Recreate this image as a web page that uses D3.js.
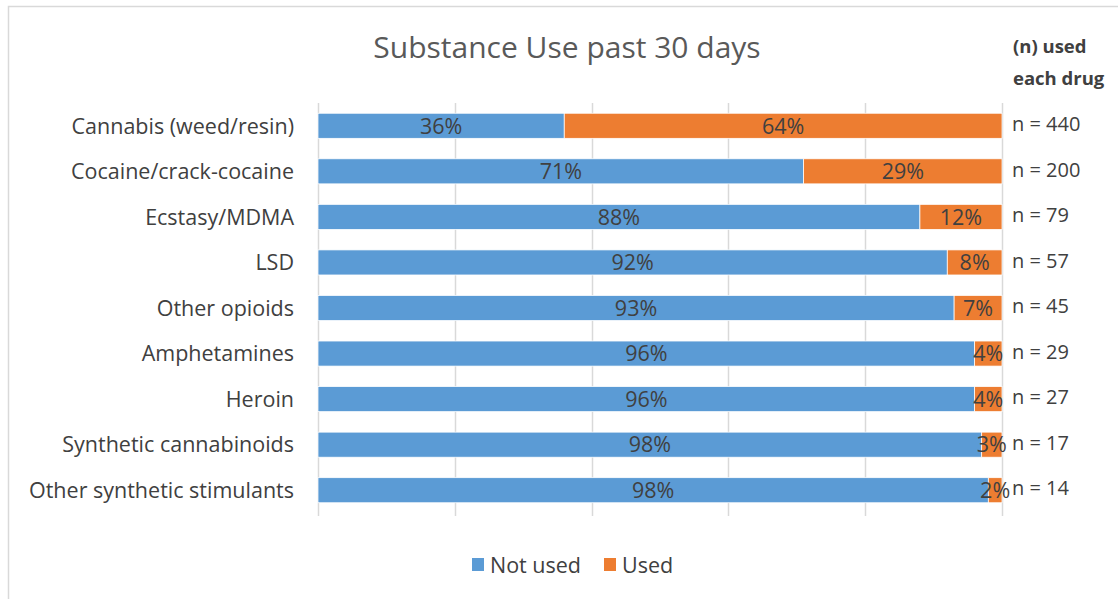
<!DOCTYPE html>
<html>
<head>
<meta charset="utf-8">
<script src="https://cdn.jsdelivr.net/npm/d3@7"></script>
<style>
  html, body { margin: 0; padding: 0; background: #fff; }
  svg { display: block; font-family: "Open Sans", "Noto Sans", sans-serif; }
</style>
</head>
<body>
<svg id="chart" width="1118" height="599"></svg>
<script>
// Substances, top to bottom
const substances = [
  "Cannabis (weed/resin)",
  "Cocaine/crack-cocaine",
  "Ecstasy/MDMA",
  "LSD",
  "Other opioids",
  "Amphetamines",
  "Heroin",
  "Synthetic cannabinoids",
  "Other synthetic stimulants"
];
// Share (%) of people who did not use / used in the past 30 days
const notUsed = [36, 71, 88, 92, 93, 96, 96, 98, 98];
const used    = [64, 29, 12, 8, 7, 4, 4, 3, 2];
// Number of people who had ever used each drug
const nUsed = [440, 200, 79, 57, 45, 29, 27, 17, 14];
const seriesNames = ["Not used", "Used"];
const xTicks = [0, 0.2, 0.4, 0.6, 0.8, 1];

const colors = { "Not used": "#5B9BD5", "Used": "#ED7D31" };
const textColor = "#404040";

const svg = d3.select("#chart");

// outer frame of the chart area
svg.append("rect")
  .attr("x", 8.5).attr("y", 6.5)
  .attr("width", 1200).attr("height", 700)
  .attr("fill", "none").attr("stroke", "#d9d9d9").attr("stroke-width", 1.5);

const rows = substances.map((s, i) => ({ name: s, "Not used": notUsed[i], "Used": used[i], n: nUsed[i] }));

// 100% stacked: each row is normalised to its own total
const stacked = d3.stack().keys(seriesNames).offset(d3.stackOffsetExpand)(rows);

const x = d3.scaleLinear().domain([0, 1]).range([318, 1002]);
const y = d3.scaleBand().domain(substances).range([103, 513]).paddingInner(0.45).paddingOuter(0.225);

// vertical gridlines
svg.append("g")
  .selectAll("line")
  .data(xTicks)
  .join("line")
  .attr("x1", d => Math.round(x(d)) + 0.5)
  .attr("x2", d => Math.round(x(d)) + 0.5)
  .attr("y1", 103).attr("y2", 516)
  .attr("stroke", "#d9d9d9").attr("stroke-width", 1.5);

// bar segments
const layers = svg.append("g")
  .selectAll("g")
  .data(stacked)
  .join("g")
  .attr("fill", d => colors[d.key]);

layers.selectAll("rect")
  .data(d => d.map(v => ({ key: d.key, v })))
  .join("rect")
  .attr("x", d => x(d.v[0]))
  .attr("width", d => x(d.v[1]) - x(d.v[0]))
  .attr("y", d => y(d.v.data.name))
  .attr("height", y.bandwidth())
  .attr("stroke", "#fff")
  .attr("stroke-width", 0.75);

// percentage labels centred in each segment
layers.selectAll("text")
  .data(d => d.map(v => ({ key: d.key, v })))
  .join("text")
  .attr("x", d => (x(d.v[0]) + x(d.v[1])) / 2)
  .attr("y", d => y(d.v.data.name) + y.bandwidth() / 2)
  .attr("dy", "0.36em")
  .attr("text-anchor", "middle")
  .attr("fill", textColor)
  .attr("font-size", 21.5)
  .text(d => d.v.data[d.key] + "%");

// category axis labels
svg.append("g")
  .selectAll("text")
  .data(substances)
  .join("text")
  .attr("x", 294)
  .attr("y", d => y(d) + y.bandwidth() / 2)
  .attr("dy", "0.36em")
  .attr("text-anchor", "end")
  .attr("fill", textColor)
  .attr("font-size", 21.5)
  .text(d => d);

// n per substance, right of the plot
svg.append("g")
  .selectAll("text")
  .data(rows)
  .join("text")
  .attr("x", 1012)
  .attr("y", d => y(d.name) + y.bandwidth() / 2 - 2)
  .attr("dy", "0.36em")
  .attr("fill", textColor)
  .attr("font-size", 20)
  .text(d => "n = " + d.n);

// column header for the n values
const hdr = svg.append("text")
  .attr("x", 1013)
  .attr("fill", textColor)
  .attr("font-size", 18.5)
  .attr("font-weight", "bold");
hdr.append("tspan").attr("x", 1013).attr("y", 53).text("(n) used");
hdr.append("tspan").attr("x", 1013).attr("y", 85).text("each drug");

// title
svg.append("text")
  .attr("x", 567).attr("y", 58)
  .attr("text-anchor", "middle")
  .attr("fill", "#595959")
  .attr("font-size", 30)
  .text("Substance Use past 30 days");

// legend
const legend = svg.append("g");
const legendItems = [
  { key: "Not used", x: 472 },
  { key: "Used", x: 604 }
];
legend.selectAll("rect")
  .data(legendItems)
  .join("rect")
  .attr("x", d => d.x).attr("y", 558)
  .attr("width", 12).attr("height", 13)
  .attr("fill", d => colors[d.key]);
legend.selectAll("text")
  .data(legendItems)
  .join("text")
  .attr("x", d => d.x + 18).attr("y", 565)
  .attr("dy", "0.36em")
  .attr("fill", textColor)
  .attr("font-size", 21.5)
  .text(d => d.key);
</script>
</body>
</html>
